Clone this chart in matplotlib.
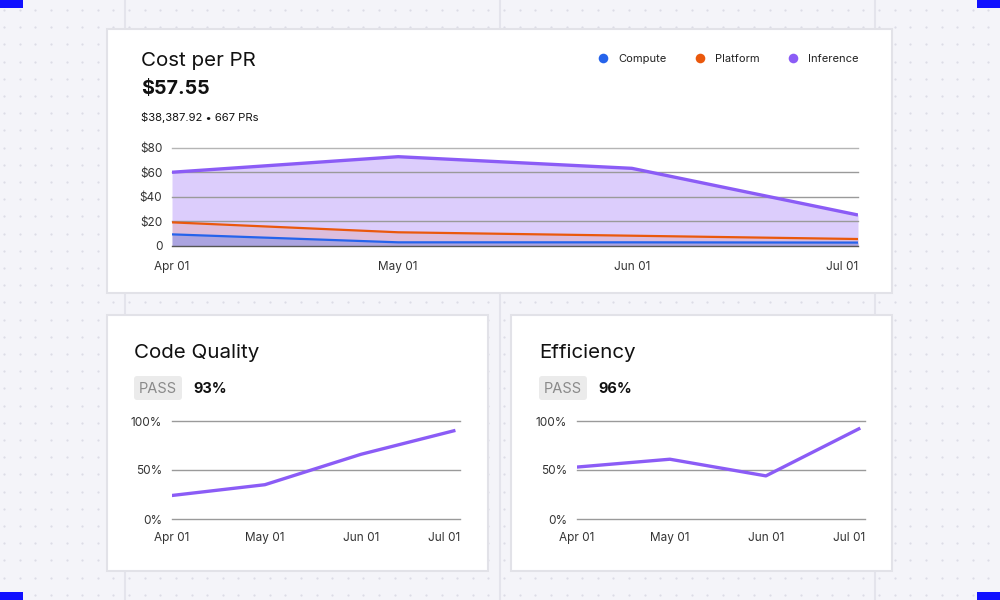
import matplotlib
matplotlib.use('Agg')
import matplotlib.pyplot as plt
import matplotlib.dates as mdates
from matplotlib.patches import Rectangle, FancyBboxPatch
from matplotlib.transforms import ScaledTranslation
import numpy as np
import pandas as pd

plt.rcParams['font.family'] = ['Inter', 'DejaVu Sans']

PURPLE = '#8b5cf6'
ORANGE = '#ea580c'
BLUE = '#2563eb'
GRID = '#9a9a9a'
INK = '#111111'
TICK = '#333333'

# ---- data ----
dates = pd.to_datetime(['2024-04-01', '2024-05-01', '2024-06-01', '2024-07-01'])
compute = [9.5, 3.0, 3.0, 2.8]
platform = [19.3, 11.2, 8.4, 5.7]
inference = [60.2, 72.9, 63.4, 25.3]
code_quality = [24, 35, 66, 90]
efficiency = [53, 61, 44, 92]

cost_ticks = [0, 20, 40, 60, 80]
pct_ticks = [0, 50, 100]

fig = plt.figure(figsize=(10, 6), dpi=100)
fig.patch.set_facecolor('#f4f4f9')

# background layer in pixel coordinates
bg = fig.add_axes([0, 0, 1, 1], zorder=0)
bg.set_xlim(0, 1000)
bg.set_ylim(600, 0)
bg.axis('off')

xs = np.arange(4, 1000, 15.625)
ys = np.arange(10, 600, 17.2)
gx, gy = np.meshgrid(xs, ys)
bg.scatter(gx.ravel(), gy.ravel(), s=2.5, color='#dcdce6', linewidths=0)
for vx in [125, 500, 875]:
    bg.axvline(vx, color='#e4e4ec', lw=1.5)

for x0, y0 in [(0, 0), (977, 0), (0, 592), (977, 592)]:
    bg.add_patch(Rectangle((x0, y0), 23, 8, facecolor='#1010ff', edgecolor='none'))

cards = [(107, 29, 785, 264), (107, 315, 381, 256), (511, 315, 381, 256)]
for x0, y0, w, h in cards:
    bg.add_patch(Rectangle((x0, y0), w, h, facecolor='white', edgecolor='#e2e2e8', lw=1.5, zorder=2))

# ---- header texts ----
bg.text(141, 61.5, 'Cost per PR', fontsize=14.8, color=INK, va='center', zorder=3)
bg.text(141, 89.5, '$57.55', fontsize=14.2, fontweight='bold', color=INK, va='center', zorder=3)
bg.text(141, 117.5, '$38,387.92 • 667 PRs', fontsize=8.1, color=INK, va='center', zorder=3)

legend = [('Compute', BLUE, 603), ('Platform', ORANGE, 700), ('Inference', PURPLE, 793)]
for name, col, lx in legend:
    bg.scatter([lx], [58], s=48, color=col, linewidths=0, zorder=3)
    bg.text(lx + 15, 58.5, name, fontsize=8, color='#222222', va='center', zorder=3)

for x0, title, val in [(134, 'Code Quality', '93%'), (539, 'Efficiency', '96%')]:
    bg.text(x0, 352.5, title, fontsize=14.8, color=INK, va='center', zorder=3)
    bg.add_patch(FancyBboxPatch((x0 + 2, 378), 44, 20, boxstyle='round,pad=2,rounding_size=3',
                                facecolor='#ebebeb', edgecolor='none', zorder=3))
    bg.text(x0 + 24, 389, 'PASS', fontsize=10.5, color='#8a8a8a', ha='center', va='center', zorder=4)
    bg.text(x0 + 59, 389, val, fontsize=10.5, fontweight='bold', color=INK, va='center', zorder=4)


def make_axes(left, top, right, bottom):
    ax = fig.add_axes([left / 1000, 1 - bottom / 600, (right - left) / 1000, (bottom - top) / 600], zorder=5)
    ax.patch.set_alpha(0)
    for s in ax.spines.values():
        s.set_visible(False)
    ax.tick_params(length=0, labelsize=8.5, labelcolor=TICK, pad=7)
    ax.xaxis.set_major_formatter(mdates.DateFormatter('%b %d'))
    ax.set_xticks(dates)
    return ax


def style_xlabels(ax, shift_px):
    labels = ax.get_xticklabels()
    labels[-1].set_ha('right')
    labels[-1].set_transform(labels[-1].get_transform() + ScaledTranslation(shift_px / 100, 0, fig.dpi_scale_trans))


# ---- top chart ----
ax = make_axes(172, 148, 858, 246)
ax.set_xlim(dates[0], dates[-1])
ax.set_ylim(0, 80)
ax.set_yticks(cost_ticks)
ax.set_yticklabels(['0' if v == 0 else f'${v}' for v in cost_ticks])
for v in cost_ticks:
    ax.axhline(v, color='#555555' if v == 0 else ('#b5b5b5' if v == 80 else GRID), lw=1, zorder=2, clip_on=False)
for series, col, a in [(inference, PURPLE, 0.3), (platform, ORANGE, 0.13), (compute, BLUE, 0.27)]:
    ax.fill_between(dates, 0, series, color=col, alpha=a, lw=0, zorder=1)
for series, col, lw in [(compute, BLUE, 1.6), (platform, ORANGE, 1.6), (inference, PURPLE, 2.4)]:
    ax.plot(dates, series, color=col, lw=lw, zorder=4, solid_capstyle='butt')
ax.tick_params(axis='x', pad=10.5)
style_xlabels(ax, 0)

# ---- bottom charts ----
for left, right, series in [(172, 460, code_quality), (577, 865, efficiency)]:
    ax = make_axes(left, 421, right, 519)
    ax.set_xlim(dates[0], dates[-1] + pd.Timedelta(days=2))
    ax.set_ylim(0, 100)
    ax.set_yticks(pct_ticks)
    ax.set_yticklabels([f'{v}%' for v in pct_ticks])
    for v in pct_ticks:
        ax.axhline(v, color=GRID, lw=1, zorder=2, clip_on=False)
    ax.plot(dates, series, color=PURPLE, lw=2.4, zorder=4)
    ax.tick_params(axis='x', pad=9.5)
    style_xlabels(ax, 6)

fig.savefig('out.png', dpi=100)
